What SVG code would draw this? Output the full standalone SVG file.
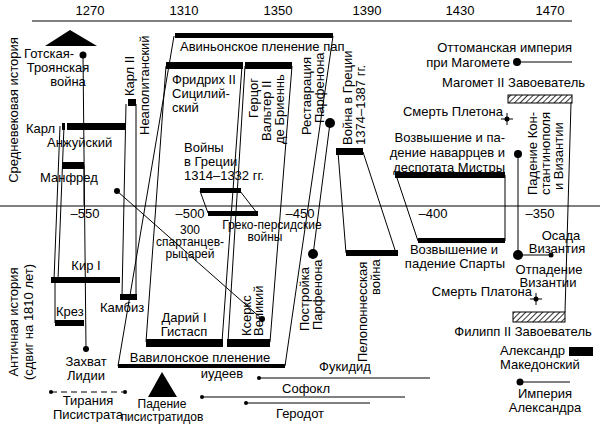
<svg xmlns="http://www.w3.org/2000/svg" width="600" height="424" viewBox="0 0 600 424">
<defs>
<pattern id="hatch" width="4" height="4" patternUnits="userSpaceOnUse" patternTransform="rotate(45)"><rect width="4" height="4" fill="#fff"/><line x1="0" y1="0" x2="0" y2="4" stroke="#000" stroke-width="1.6"/></pattern>
</defs>
<style>
text{font-family:"Liberation Sans Narrow","Liberation Sans",sans-serif;font-size:13px;fill:#000}
.s{font-size:12px}
.m{text-anchor:middle}.e{text-anchor:end}
.l{stroke:#000;stroke-width:1;fill:none}
.b{fill:#000}
.h{fill:url(#hatch);stroke:#000;stroke-width:1}
</style>
<rect width="600" height="424" fill="#fff"/>
<g id="axes">
<line class="l" x1="32" y1="21" x2="572" y2="21" stroke-width="1.5"/>
<line class="l" x1="0" y1="206" x2="600" y2="206" stroke-width="1.5"/>
<text class="m" x="90" y="15">1270</text><text class="m" x="184" y="15">1310</text><text class="m" x="278" y="15">1350</text><text class="m" x="367" y="15">1390</text><text class="m" x="460" y="15">1430</text><text class="m" x="550" y="15">1470</text>
<text class="m" x="85" y="218">–550</text><text class="m" x="190" y="218">–500</text><text class="m" x="300" y="218">–450</text><text class="m" x="433" y="218">–400</text><text class="m" x="540" y="218">–350</text>
<text class="m" transform="translate(18,110) rotate(-90)">Средневековая история</text>
<text class="m" transform="translate(18,322) rotate(-90)">Античная история</text>
<text class="m" transform="translate(33,322) rotate(-90)">(сдвиг на 1810 лет)</text>
</g>
<g id="connectors">
<line class="l" x1="83" y1="55" x2="86" y2="349"/>
<line class="l" x1="126" y1="104" x2="122" y2="296"/>
<line class="l" x1="136" y1="104" x2="136" y2="296"/>
<line class="l" x1="60" y1="126" x2="54" y2="280"/>
<line class="l" x1="64" y1="126" x2="58" y2="280"/>
<line class="l" x1="55" y1="283" x2="55" y2="323"/>
<line class="l" x1="84" y1="165" x2="84" y2="205"/>
<line class="l" x1="117" y1="191" x2="262" y2="319"/>
<line class="l" x1="174" y1="36" x2="118" y2="366"/>
<line class="l" x1="333" y1="36" x2="285" y2="366"/>
<line class="l" x1="166" y1="66" x2="146" y2="342"/>
<line class="l" x1="242" y1="66" x2="222" y2="342"/>
<line class="l" x1="245" y1="66" x2="228" y2="342"/>
<line class="l" x1="292" y1="66" x2="270" y2="342"/>
<line class="l" x1="200" y1="191" x2="208" y2="213"/>
<line class="l" x1="240" y1="191" x2="257" y2="213"/>
<line class="l" x1="330" y1="123" x2="313" y2="255"/>
<line class="l" x1="338" y1="152" x2="346" y2="253"/>
<line class="l" x1="363" y1="152" x2="396" y2="253"/>
<line class="l" x1="396" y1="175" x2="418" y2="241"/>
<line class="l" x1="505" y1="175" x2="505" y2="241"/>
<line class="l" x1="517" y1="62" x2="572" y2="62"/>
<line class="l" x1="571" y1="103" x2="565" y2="312"/>
<line class="l" x1="518" y1="153" x2="518" y2="255"/>
<line class="l" x1="518" y1="255" x2="551" y2="255"/>
<line class="l" x1="51" y1="392" x2="125" y2="392" stroke-dasharray="6,4"/>
<line class="l" x1="259" y1="378" x2="430" y2="378"/>
<line class="l" x1="202" y1="397" x2="405" y2="397"/>
<line class="l" x1="246" y1="403" x2="370" y2="403"/>
<line class="l" x1="520" y1="382" x2="570" y2="382"/>
</g>
<g id="gotic"><polygon class="b" points="70,30 45,46 97,46"/><circle class="b" cx="83" cy="55" r="3.5"/>
<text x="24" y="58">Готская-</text><text class="m" x="58" y="72">Троянская</text><text class="m" x="68" y="86">война</text></g>
<g id="karl2"><rect class="b" x="128" y="99" width="8" height="7"/>
<text transform="translate(134,96) rotate(-90)">Карл II</text><text transform="translate(149,135) rotate(-90)">Неаполитанский</text></g>
<g id="karlA"><rect class="b" x="62" y="123" width="3" height="7"/><rect class="b" x="67" y="123" width="59" height="7"/>
<text x="26" y="133">Карл</text><text x="47" y="147">Анжуйский</text></g>
<g id="manfred"><rect class="b" x="62" y="162" width="22" height="7"/><text x="40" y="182">Манфред</text><circle class="b" cx="117" cy="191" r="3"/></g>
<g id="avignon"><rect class="b" x="175" y="33" width="158" height="5"/><text x="180" y="51">Авиньонское пленение пап</text></g>
<g id="fridrih"><rect class="b" x="166" y="62" width="77" height="7"/><text x="172" y="84">Фридрих II</text><text x="172" y="98">Сицилий-</text><text x="172" y="112">ский</text></g>
<g id="gercog"><rect class="b" x="245" y="62" width="47" height="7"/>
<text transform="translate(258,118) rotate(-90)">Герцог</text><text transform="translate(271,141) rotate(-90)">Вальтер II</text><text transform="translate(284,144) rotate(-90)">де Бриеннь</text></g>
<g id="wars1314"><text x="184" y="152">Войны</text><text x="184" y="166">в Греции</text><text x="184" y="180">1314–1332 гг.</text>
<rect class="b" x="200" y="188" width="41" height="5"/><rect class="b" x="208" y="211" width="50" height="5"/>
<text class="m s" x="272" y="229">Греко-персидские</text><text class="m s" x="265" y="241">войны</text></g>
<g id="sparta300"><text class="m s" x="190" y="234">300</text><text class="m s" x="190" y="246">спартанцев-</text><text class="m s" x="190" y="258">рыцарей</text><circle class="b" cx="262" cy="319" r="3"/></g>
<g id="parthenon"><circle class="b" cx="330" cy="123" r="5"/>
<text transform="translate(311,135) rotate(-90)">Реставрация</text><text transform="translate(324,123) rotate(-90)">Парфенона</text>
<circle class="b" cx="313" cy="254" r="5"/>
<text transform="translate(309,331) rotate(-90)">Постройка</text><text transform="translate(322,330) rotate(-90)">Парфенона</text></g>
<g id="war1374"><rect class="b" x="336" y="148" width="27" height="7"/>
<text transform="translate(352,145) rotate(-90)">Война в Греции</text><text transform="translate(365,145) rotate(-90)">1374–1387 гг.</text>
<rect class="b" x="346" y="250" width="52" height="6"/>
<text transform="translate(367,362) rotate(-90)">Пелопоннесская</text><text transform="translate(380,295) rotate(-90)">война</text></g>
<g id="navarr"><text class="e" x="505" y="142">Возвышение и па-</text><text class="e" x="505" y="157">дение наваррцев и</text><text class="e" x="505" y="172">деспотата Мистры</text>
<rect class="b" x="395" y="172" width="110" height="6"/><rect class="b" x="418" y="238" width="87" height="5"/>
<text class="m" x="454" y="254">Возвышение и</text><text class="m" x="455" y="268">падение Спарты</text></g>
<g id="ottoman"><text class="e" x="572" y="52">Оттоманская империя</text><text class="e" x="510" y="67">при Магомете</text><circle class="b" cx="517" cy="62" r="4"/></g>
<g id="mehmed"><text class="e" x="585" y="87">Магомет II Завоеватель</text><rect class="h" x="508" y="95" width="64" height="8"/></g>
<g id="pleton"><text class="e" x="503" y="116">Смерть Плетона</text><circle class="b" cx="507" cy="119" r="2.5"/><line class="l" x1="501" y1="119" x2="513" y2="119"/><line class="l" x1="507" y1="113" x2="507" y2="125"/></g>
<g id="konst"><circle class="b" cx="518" cy="154" r="4"/>
<text transform="translate(537,195) rotate(-90)">Падение Кон-</text><text transform="translate(550,195) rotate(-90)">стантинополя</text><text transform="translate(563,190) rotate(-90)">и Византии</text></g>
<g id="osada"><circle class="b" cx="518" cy="255" r="5"/><circle class="b" cx="551" cy="255" r="2.5"/>
<text class="m" x="561" y="240">Осада</text><text class="m" x="557" y="253">Византия</text>
<text class="m" x="549" y="274">Отпадение</text><text class="m" x="548" y="287">Византии</text></g>
<g id="platon"><text class="e" x="532" y="296">Смерть Платона</text><circle class="b" cx="536" cy="299" r="2.5"/><line class="l" x1="530" y1="299" x2="542" y2="299"/><line class="l" x1="536" y1="293" x2="536" y2="305"/></g>
<g id="philip"><rect class="h" x="513" y="312" width="52" height="10"/><text class="m" x="523" y="336">Филипп II Завоеватель</text></g>
<g id="alexander"><rect class="b" x="569" y="347" width="24" height="9"/><text x="500" y="355">Александр</text><text x="500" y="369">Македонский</text></g>
<g id="empire"><circle class="b" cx="520" cy="382" r="3.5"/><text class="m" x="545" y="398">Империя</text><text class="m" x="545" y="412">Александра</text></g>
<g id="kir"><rect class="b" x="51" y="277" width="69" height="6"/><text class="m" x="86" y="270">Кир I</text>
<rect class="b" x="55" y="320" width="29" height="6"/><text x="56" y="316">Крез</text>
<rect class="b" x="120" y="294" width="17" height="6"/><text x="100" y="312">Камбиз</text>
<circle class="b" cx="86" cy="349" r="3"/><text class="m" x="86" y="366">Захват</text><text class="m" x="86" y="380">Лидии</text></g>
<g id="darius"><rect class="b" x="146" y="339" width="77" height="8"/><text class="m" x="184" y="322">Дарий I</text><text class="m" x="184" y="336">Гистасп</text>
<rect class="b" x="227" y="339" width="43" height="8"/><text transform="translate(251,336) rotate(-90)">Ксеркс</text><text transform="translate(263,336) rotate(-90)">Великий</text></g>
<g id="babylon"><rect class="b" x="118" y="364" width="167" height="4"/><text class="m" x="200" y="362">Вавилонское пленение</text><text class="m" x="222" y="378">иудеев</text></g>
<g id="pisistrat"><circle class="b" cx="51" cy="392" r="2"/><circle class="b" cx="125" cy="392" r="2"/>
<text class="m" x="88" y="405">Тирания</text><text class="m" x="88" y="419">Писистрата</text>
<polygon class="b" points="162,372 148,397 177,397"/><text class="m s" x="162" y="408">Падение</text><text class="m s" x="162" y="421">писистратидов</text></g>
<g id="writers"><circle class="b" cx="259" cy="378" r="2"/><circle class="b" cx="202" cy="397" r="2"/><circle class="b" cx="246" cy="403" r="2"/>
<text class="m" x="345" y="371">Фукидид</text><text class="m" x="306" y="393">Софокл</text><text class="m" x="300" y="418">Геродот</text></g>
</svg>
